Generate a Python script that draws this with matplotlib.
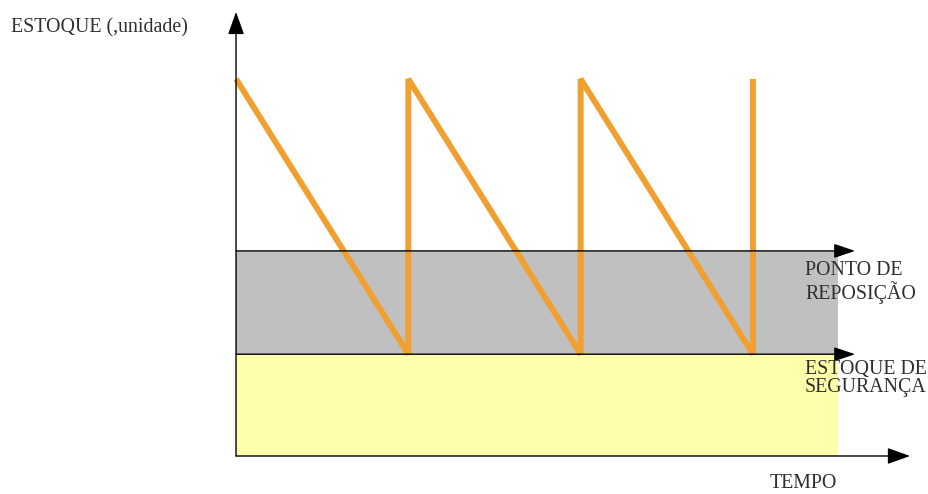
import matplotlib.pyplot as plt

# Sawtooth of stock level over time (arbitrary units)
time_t = [0, 1, 1, 2, 2, 3, 3]
stock_level = [100, 27, 100, 27, 100, 27, 100]

safety_stock = 27
reorder_point = 54.4
band_end = 3.494
level_arrow_end = 3.593
time_arrow_end = 3.912
stock_arrow_end = 117.8

axis_label_y = 'ESTOQUE (,unidade)'
axis_label_x = 'TEMPO'
reorder_label = 'PONTO DE\nREPOSIÇÃO'
safety_label = 'ESTOQUE DE\nSEGURANÇA'

fig = plt.figure(figsize=(9.29, 4.94), dpi=100)
ax = fig.add_axes([0, 0, 1, 1])
ax.set_xlim(-1.370, 4.022)
ax.set_ylim(-10.08, 120.95)
ax.axis('off')

# Bands: safety stock (yellow) and between safety and reorder point (gray)
ax.fill_between([0, band_end], 0, safety_stock, color='#FFFFAA', lw=0, zorder=1)
ax.fill_between([0, band_end], safety_stock, reorder_point, color='#C0C0C0', lw=0, zorder=1)

# Stock level sawtooth
ax.plot(time_t, stock_level, color='#F0A030', lw=4.3,
        solid_joinstyle='bevel', solid_capstyle='butt', zorder=2)

arrow = dict(arrowstyle='-|>,head_length=0.7,head_width=0.25',
             color='black', lw=1.0, mutation_scale=20, shrinkA=0, shrinkB=0)
small_arrow = dict(arrowstyle='-|>,head_length=0.65,head_width=0.22',
                   color='black', lw=1.0, mutation_scale=20, shrinkA=0, shrinkB=0)

# Axes arrows
ax.annotate('', xy=(0, stock_arrow_end), xytext=(0, 0), arrowprops=arrow, zorder=3)
ax.annotate('', xy=(time_arrow_end, 0), xytext=(0, 0), arrowprops=arrow, zorder=3)

# Level lines with arrows
ax.annotate('', xy=(level_arrow_end, reorder_point), xytext=(0, reorder_point),
            arrowprops=small_arrow, zorder=3)
ax.annotate('', xy=(level_arrow_end, safety_stock), xytext=(0, safety_stock),
            arrowprops=small_arrow, zorder=3)


def px_text(x, y, s, va='baseline', **kw):
    # place text by pixel position (y from top)
    fig.text(x / 929, 1 - y / 494, s, family='Liberation Serif', fontsize=14.3,
             color='#2e2e2e', va=va, **kw)


px_text(11, 32, axis_label_y)
px_text(805, 261, reorder_label, va='top', linespacing=1.08)
px_text(805, 360, safety_label, va='top', linespacing=0.92)
px_text(770, 488, axis_label_x)

fig.savefig('out.png', dpi=100, facecolor='white')
